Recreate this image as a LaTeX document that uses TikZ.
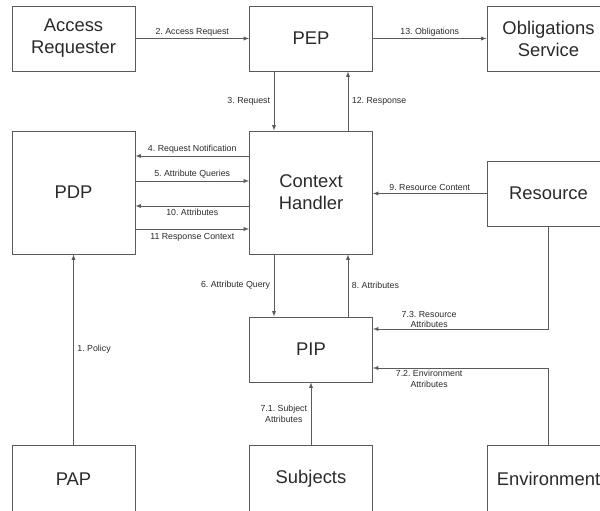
\documentclass[tikz,border=0pt]{standalone}
\usepackage{fontspec}
\setmainfont{Liberation Sans}
\usetikzlibrary{arrows.meta,calc,positioning}
\definecolor{boxgray}{HTML}{5A5A5A}
\definecolor{txtgray}{HTML}{2A2A2A}
\frenchspacing
\begin{document}
\begin{tikzpicture}[x=1pt,y=-1pt,
    box/.style={draw=boxgray,line width=0.9pt,minimum width=123pt,minimum height=65pt,inner sep=0pt,align=center,text=txtgray,font=\fontsize{18.4}{22}\selectfont},
    lbl/.style={font=\fontsize{8.8}{10.8}\selectfont,text=txtgray,inner sep=2.5pt,align=center},
    flow/.style={-latex,draw=boxgray,line width=0.9pt}]
  \useasboundingbox (0,0) rectangle (600,511);
  \clip (0,0) rectangle (600,511);

  \node[box] (ar) at (73.5,38.5) {Access\\Requester};
  \node[box] (pep) at (311,38.5) {PEP};
  \node[box] (obl) at (548.5,38.5) {Obligations\\Service};
  \node[box,minimum height=123pt] (pdp) at (73.5,192.5) {PDP};
  \node[box,minimum height=123pt] (ch) at (311,192.5) {Context\\Handler};
  \node[box] (res) at (548.5,193.5) {Resource};
  \node[box] (pip) at (311,349.5) {PIP};
  \node[box,minimum height=68pt] (pap) at (73.5,479) {PAP};
  \node[box,minimum height=68pt] (subj) at (311,479) {Subjects};
  \node[box,minimum height=68pt] (env) at (548.5,479) {Environment};

  \draw[flow] (ar) -- node[lbl,above,inner sep=1.5pt]{2. Access Request} (pep);
  \draw[flow] (pep) -- node[lbl,above,inner sep=1.5pt]{13. Obligations} (obl);
  \draw[flow] ([xshift=-37pt]pep.south) -- node[lbl,left,inner sep=3.5pt]{3. Request} ([xshift=-37pt]ch.north);
  \draw[flow] ([xshift=37pt]ch.north) -- node[lbl,right,inner sep=3.5pt]{12. Response} ([xshift=37pt]pep.south);

  \draw[flow] ([yshift=36.5pt]ch.west) -- node[lbl,above]{4. Request Notification} ([yshift=36.5pt]pdp.east);
  \draw[flow] ([yshift=11.5pt]pdp.east) -- node[lbl,above]{5. Attribute Queries} ([yshift=11.5pt]ch.west);
  \draw[flow] ([yshift=-13.5pt]ch.west) -- node[lbl,below]{10. Attributes} ([yshift=-13.5pt]pdp.east);
  \draw[flow] ([yshift=-36.5pt]pdp.east) -- node[lbl,below,inner sep=3.5pt]{11 Response Context} ([yshift=-36.5pt]ch.west);
  \draw[flow] (res.west) -- node[lbl,above]{9. Resource Content} (res.west -| ch.east);

  \draw[flow] ([xshift=-37pt]ch.south) -- node[lbl,left,inner sep=3.5pt]{6. Attribute Query} ([xshift=-37pt]pip.north);
  \draw[flow] ([xshift=37pt]pip.north) -- node[lbl,right,inner sep=3.5pt]{8. Attributes} ([xshift=37pt]ch.south);
  \draw[flow] (res.south) |- node[lbl,above,pos=0.84,inner sep=0.5pt]{7.3. Resource\\Attributes} ([yshift=20.5pt]pip.east);
  \draw[flow] (env.north) |- node[lbl,below,pos=0.84,inner sep=2pt]{7.2. Environment\\Attributes} ([yshift=-18.5pt]pip.east);
  \draw[flow] (subj.north) -- node[lbl,left,inner sep=3.5pt]{7.1. Subject\\Attributes} (pip.south);
  \draw[flow] (pap.north) -- node[lbl,right,inner sep=3.5pt]{1. Policy} (pdp.south);
\end{tikzpicture}
\end{document}
